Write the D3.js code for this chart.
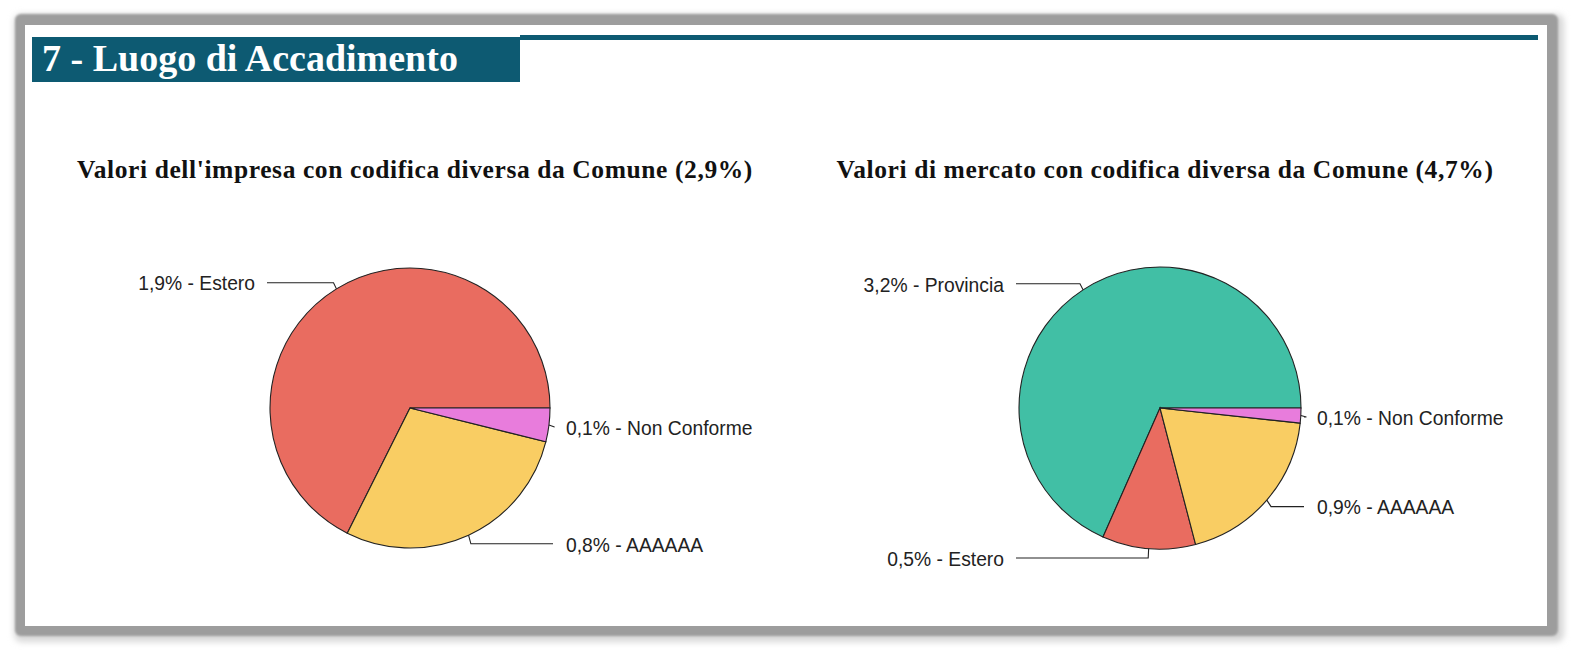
<!DOCTYPE html>
<html>
<head>
<meta charset="utf-8">
<script src="https://cdn.jsdelivr.net/npm/d3@7"></script>
<style>
  body { margin: 0; background: #fff; }
  svg { display: block; }
</style>
</head>
<body>
<svg id="chart"></svg>
<script>
// data (percent values, labels show them rounded)
const impresaLabels = ["Estero", "AAAAAA", "Non Conforme"];
const impresaValues = [1.92, 0.81, 0.11];
const mercatoLabels = ["Provincia", "Estero", "AAAAAA", "Non Conforme"];
const mercatoValues = [3.2, 0.5, 0.9, 0.08];
const chartTitles = [
  "Valori dell'impresa con codifica diversa da Comune (2,9%)",
  "Valori di mercato con codifica diversa da Comune (4,7%)"
];
const sectionTitle = "7 - Luogo di Accadimento";
const sliceColors = {
  "Provincia": "#41bfa5",
  "Estero": "#e96c60",
  "AAAAAA": "#f9cd63",
  "Non Conforme": "#e87cdc"
};

const width = 1571, height = 651;
const svg = d3.select('#chart').attr('width', width).attr('height', height);

// frame with grey shadow border
const defs = svg.append('defs');
defs.append('filter').attr('id', 'blur').attr('x', '-5%').attr('y', '-5%').attr('width', '110%').attr('height', '110%')
  .append('feGaussianBlur').attr('stdDeviation', 3);
defs.append('filter').attr('id', 'blur2').attr('x', '-5%').attr('y', '-5%').attr('width', '110%').attr('height', '110%')
  .append('feGaussianBlur').attr('stdDeviation', 1.2);

svg.append('rect').attr('x', 14).attr('y', 14).attr('width', 1550).attr('height', 628).attr('rx', 8)
  .style('fill', '#d8d8d8').attr('filter', 'url(#blur)');
svg.append('rect').attr('x', 15).attr('y', 14).attr('width', 1543).attr('height', 622).attr('rx', 6)
  .style('fill', '#9d9d9d').attr('filter', 'url(#blur2)');
svg.append('rect').attr('x', 25).attr('y', 25).attr('width', 1522).attr('height', 601)
  .style('fill', '#fff');

// section header
svg.append('rect').attr('x', 520).attr('y', 35).attr('width', 1018).attr('height', 5).style('fill', '#0d5a72');
svg.append('rect').attr('x', 32).attr('y', 37).attr('width', 488).attr('height', 45).style('fill', '#0d5a72');
svg.append('text').attr('x', 42).attr('y', 71)
  .style('font-family', '"Liberation Serif", "DejaVu Serif", serif')
  .style('font-weight', 'bold').style('font-size', '38px').style('fill', '#fff')
  .text(sectionTitle);

const fmt = v => d3.format('.1f')(v).replace('.', ',') + '%';

function drawPie(labels, values, title, cx, cy, r) {
  const data = labels.map((l, i) => ({ label: l, value: values[i] }));
  // counter-clockwise from 3 o'clock
  const pie = d3.pie().sort(null).value(d => d.value)
    .startAngle(Math.PI / 2).endAngle(Math.PI / 2 - 2 * Math.PI);
  const arcs = pie(data);
  const arc = d3.arc().innerRadius(0).outerRadius(r);

  svg.append('text').attr('x', cx + 5).attr('y', 178)
    .attr('text-anchor', 'middle')
    .style('font-family', '"Liberation Serif", "DejaVu Serif", serif')
    .style('font-weight', 'bold').style('font-size', '25.5px')
    .style('letter-spacing', '0.6px').style('fill', '#111')
    .text(title);

  const g = svg.append('g').attr('transform', `translate(${cx},${cy})`);
  g.selectAll('path.slice').data(arcs).enter().append('path')
    .attr('class', 'slice')
    .attr('d', arc)
    .style('fill', d => sliceColors[d.data.label])
    .style('stroke', '#222').style('stroke-width', 1.1);

  arcs.forEach(d => {
    const m = (d.startAngle + d.endAngle) / 2;
    const sx = Math.sin(m), sy = -Math.cos(m);
    const right = sx >= 0;
    const p0 = [r * sx, r * sy];
    const p1 = [1.04 * r * sx, 1.06 * r * sy + 1];
    const p2 = [right ? r + 3 : -(r + 3), p1[1]];
    g.append('path')
      .attr('d', d3.line()([p0, p1, p2]))
      .style('fill', 'none').style('stroke', '#222').style('stroke-width', 1.1);
    g.append('text')
      .attr('x', right ? r + 16 : -(r + 15))
      .attr('y', p1[1] + 1)
      .attr('dy', '0.35em')
      .attr('text-anchor', right ? 'start' : 'end')
      .style('font-family', '"Liberation Sans", Arial, sans-serif')
      .style('font-size', '19.3px').style('fill', '#222')
      .text(`${fmt(d.data.value)} - ${d.data.label}`);
  });
}

drawPie(impresaLabels, impresaValues, chartTitles[0], 410, 408, 140);
drawPie(mercatoLabels, mercatoValues, chartTitles[1], 1160, 408, 141);
</script>
</body>
</html>
